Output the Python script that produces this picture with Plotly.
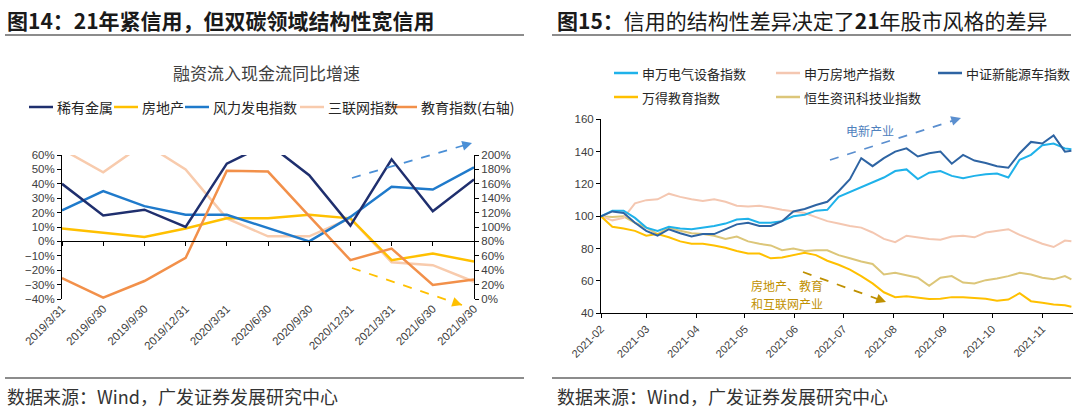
import plotly.graph_objects as go

W, H = 1080, 412
CJK = "Noto Sans CJK SC"
LATIN = "Liberation Sans, Arial"


def px(x):
    return x / W


def py(y):
    return 1 - y / H


# ---- left panel: 融资流入现金流同比增速 ----
quarters = ['2019/3/31', '2019/6/30', '2019/9/30', '2019/12/31', '2020/3/31', '2020/6/30',
            '2020/9/30', '2020/12/31', '2021/3/31', '2021/6/30', '2021/9/30']
rare_metal = [40, 18, 22, 10, 54, 68, 46, 11, 57, 21, 43]
real_estate = [9, 6, 3, 9, 16, 16, 18.5, 16, -13, -8.5, -14]
wind_power = [21.5, 35, 24.5, 18.5, 18.5, 9, 0, 17, 38, 36, 51.5]
iot = [64, 48, 68, 50, 16, 3.5, 3.5, 16, -14.5, -16.5, -28]
education = [29, 2, 25, 57, 178, 177, 115, 54, 70, 19.5, 27]  # right axis

left_names = ['稀有金属', '房地产', '风力发电指数', '三联网指数', '教育指数(右轴)']
left_colors = ['#1F2F6E', '#FFC000', '#1F7ACB', '#F8CBAD', '#F2904A']

# ---- right panel: indices, 2021-02-01 = 100 ----
dates = ['2021-02-01', '2021-02-08', '2021-02-15', '2021-02-22', '2021-03-01', '2021-03-08',
         '2021-03-15', '2021-03-22', '2021-03-29', '2021-04-05', '2021-04-12', '2021-04-19',
         '2021-04-26', '2021-05-03', '2021-05-10', '2021-05-17', '2021-05-24', '2021-05-31',
         '2021-06-07', '2021-06-14', '2021-06-21', '2021-06-28', '2021-07-05', '2021-07-12',
         '2021-07-19', '2021-07-26', '2021-08-02', '2021-08-09', '2021-08-16', '2021-08-23',
         '2021-08-30', '2021-09-06', '2021-09-13', '2021-09-20', '2021-09-27', '2021-10-04',
         '2021-10-11', '2021-10-18', '2021-10-25', '2021-11-01', '2021-11-08', '2021-11-15',
         '2021-11-19']
sw_elec = [100, 103.5, 103.5, 99, 93, 91, 93.5, 92.5, 92, 93, 94, 95.5, 98, 98.5,
           96, 96, 97, 100, 101, 103.5, 104, 112, 115, 117.5, 121, 124, 128, 129,
           123, 127, 128, 125, 123.5, 125, 126, 126.5, 124, 135, 138, 144, 145, 142, 141.5]
sw_re = [100, 97.5, 99, 108, 110, 110.5, 114, 112, 110.5, 109.5, 110.5, 109, 106.5, 106,
         106.5, 105.5, 104, 103, 102, 99.5, 97, 95.5, 94, 93, 90, 86, 84, 88,
         87, 86, 85.5, 87.5, 88, 87, 90, 91, 92, 88.5, 85.5, 83, 81, 85, 84.5]
csi_nev = [100, 103, 102, 96, 91, 88, 92, 89.5, 87.5, 89, 89, 92, 95, 96,
           94, 94, 97, 103, 104.5, 107, 109, 115.5, 123, 136, 131, 136, 140, 142,
           137, 139, 140, 132.5, 138, 134.5, 133, 131, 130, 139, 146, 145, 150, 140, 140.5]
wind_edu = [100, 93.5, 92.5, 91, 88, 89, 87, 84.5, 83, 83, 82, 80.5, 78.5, 77,
            77, 74, 74.5, 76, 77.5, 76, 72.5, 70, 67, 63, 58.5, 53, 50, 50.5,
            49.8, 48.8, 49, 50, 50, 49.5, 49, 47.8, 48.5, 52.5, 47.5, 46.5, 45.5, 45, 44]
hs_it = [100, 99.5, 100, 96, 93, 89, 93, 91, 89.5, 89, 88, 86, 87.5, 84.5,
         83, 82, 79, 80, 78.5, 79, 79, 76, 74, 72, 70.5, 64, 65, 63.5,
         62, 57, 62, 63, 59, 58.5, 60.5, 61.5, 63, 65, 64, 62, 61, 63, 61]
month_ticks = ['2021-02-01', '2021-03-01', '2021-04-01', '2021-05-01', '2021-06-01',
               '2021-07-01', '2021-08-01', '2021-09-01', '2021-10-01', '2021-11-01']

right_names = ['申万电气设备指数', '申万房地产指数', '中证新能源车指数', '万得教育指数', '恒生资讯科技业指数']
right_colors = ['#1FB2EA', '#F4C7B1', '#2E64A3', '#FFC000', '#DCC679']

fig = go.Figure()

# left traces (draw order: light ones first)
left_series = [rare_metal, real_estate, wind_power, iot]
for i in [3, 1, 2, 0]:
    fig.add_trace(go.Scatter(x=quarters, y=left_series[i], name=left_names[i], mode='lines',
                             line=dict(color=left_colors[i], width=2.5),
                             xaxis='x', yaxis='y', showlegend=False))
fig.add_trace(go.Scatter(x=quarters, y=education, name=left_names[4], mode='lines',
                         line=dict(color=left_colors[4], width=2.5),
                         xaxis='x', yaxis='y2', showlegend=False))
# carrier for the zero-level category axis with its tick marks
fig.add_trace(go.Scatter(x=quarters, y=[None] * len(quarters), xaxis='x3', yaxis='y',
                         showlegend=False, hoverinfo='skip'))

right_series = [sw_elec, sw_re, csi_nev, wind_edu, hs_it]
for i in [4, 1, 3, 0, 2]:
    fig.add_trace(go.Scatter(x=dates, y=right_series[i], name=right_names[i], mode='lines',
                             line=dict(color=right_colors[i], width=2),
                             xaxis='x2', yaxis='y3', showlegend=False))

tick_font = dict(family=LATIN, size=11.5, color='#404040')
ydom = [py(299), py(155)]
zero_pos = ydom[0] + 0.4 * (ydom[1] - ydom[0])

fig.update_layout(
    width=W, height=H,
    margin=dict(l=0, r=0, t=0, b=0),
    template='none',
    paper_bgcolor='white',
    plot_bgcolor='rgba(0,0,0,0)',
    font=dict(family=CJK, color='#262626'),
    showlegend=False,
    xaxis=dict(domain=[px(62), px(474)], anchor='y', type='category', range=[0, 10],
               tickangle=-45, showline=False, ticks='', showgrid=False, zeroline=False,
               tickfont=tick_font),
    xaxis3=dict(overlaying='x', anchor='free', position=zero_pos, type='category',
                range=[0, 10], showline=True, linecolor='#000', linewidth=1, ticks='outside',
                ticklen=4, tickcolor='#000', showticklabels=False, showgrid=False, zeroline=False),
    yaxis=dict(domain=ydom, anchor='x', range=[-40, 60], dtick=10, tick0=0, ticksuffix='%',
               showline=True, linecolor='#000', linewidth=1, ticks='outside', ticklen=4,
               tickcolor='#000', showgrid=False, zeroline=False, tickfont=tick_font),
    yaxis2=dict(overlaying='y', anchor='x', side='right', range=[0, 200], dtick=20,
                ticksuffix='%', showline=True, linecolor='#000', linewidth=1, ticks='outside',
                ticklen=4, tickcolor='#000', showgrid=False, zeroline=False, tickfont=tick_font),
    xaxis2=dict(domain=[px(601), px(1073)], anchor='y3', type='date',
                range=['2021-02-01', '2021-11-20'], tickvals=month_ticks, tickformat='%Y-%m',
                tickangle=-45, showline=True, linecolor='#000', linewidth=1, ticks='outside',
                ticklen=4, tickcolor='#000', showgrid=False, zeroline=False,
                tickfont=dict(family=LATIN, size=11, color='#404040')),
    yaxis3=dict(domain=[py(313.3), py(119.3)], anchor='x2', range=[40, 160], dtick=20,
                showline=True, linecolor='#000', linewidth=1, ticks='outside', ticklen=4,
                tickcolor='#000', showgrid=False, zeroline=False, tickfont=tick_font),
)

shapes = []
annotations = []


def hline(x0, x1, y):
    shapes.append(dict(type='line', xref='paper', yref='paper', x0=px(x0), x1=px(x1),
                       y0=py(y), y1=py(y), line=dict(color='#8C8C8C', width=2)))


def text(x, y, s, size, color='#262626', anchor='left', family=CJK):
    annotations.append(dict(x=px(x), y=py(y), xref='paper', yref='paper', text=s,
                            showarrow=False, xanchor=anchor, yanchor='middle',
                            font=dict(family=family, size=size, color=color)))


def legend_item(x, y, name, color, size):
    shapes.append(dict(type='line', xref='paper', yref='paper', x0=px(x), x1=px(x + 24),
                       y0=py(y), y1=py(y), line=dict(color=color, width=2.5)))
    text(x + 26, y, name, size)


def dashed_arrow(x0, y0, x1, y1, color):
    shapes.append(dict(type='line', xref='paper', yref='paper', x0=px(x0), y0=py(y0),
                       x1=px(x1), y1=py(y1), line=dict(color=color, width=1.8, dash='dash')))
    dx, dy = x1 - x0, y1 - y0
    n = (dx ** 2 + dy ** 2) ** 0.5
    annotations.append(dict(x=px(x1), y=py(y1), xref='paper', yref='paper', text='',
                            showarrow=True, ax=-10 * dx / n, ay=-10 * dy / n,
                            arrowhead=2, arrowsize=1.3, arrowwidth=1.5, arrowcolor=color))


# headers, separators, sources
text(5, 20, '<b>图14：21年紧信用，但双碳领域结构性宽信用</b>', 21, '#1A1A1A')
text(555, 20, '<b>图15：</b>信用的结构性差异决定了<b>21</b>年股市风格的差异', 21, '#1A1A1A')
for x0, x1 in [(5, 524), (552, 1071)]:
    hline(x0, x1, 35)
    hline(x0, x1, 378)
text(5, 396, '数据来源：Wind，广发证券发展研究中心', 18, '#333333')
text(555, 396, '数据来源：Wind，广发证券发展研究中心', 18, '#333333')

# left chart title + legend
text(266, 72, '融资流入现金流同比增速', 17, '#404040', anchor='center')
for name, color, x in zip(left_names, left_colors, [29, 114, 185, 300, 393]):
    legend_item(x, 107, name, color, 14)

# right legend (two rows)
for name, color, (x, y) in zip(right_names, right_colors,
                               [(614, 73), (776, 73), (938, 73), (614, 97), (776, 97)]):
    legend_item(x, y, name, color, 13)

# trend arrows and notes
dashed_arrow(352, 178, 472, 143, '#4A8FD6')
dashed_arrow(352, 268, 462, 305, '#FFC000')
dashed_arrow(830, 160, 961, 118, '#5B8FCF')
dashed_arrow(803, 272, 886, 302, '#BF9000')
text(870, 130, '电新产业', 12, '#4F81BD', anchor='center')
text(787, 285, '房地产、教育', 12, '#BF9000', anchor='center')
text(787, 303, '和互联网产业', 12, '#BF9000', anchor='center')

fig.update_layout(shapes=shapes, annotations=annotations)

fig.write_html("out.html", config={'displayModeBar': False},
               post_script="document.body.style.margin='0';")
